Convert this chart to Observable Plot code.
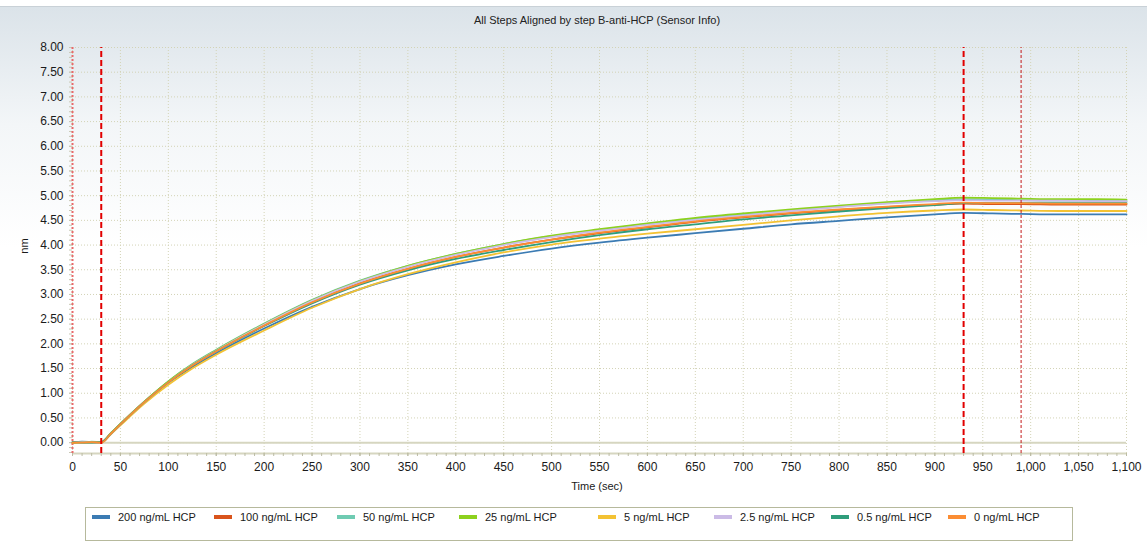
<!DOCTYPE html>
<html>
<head>
<meta charset="utf-8">
<script src="https://cdn.jsdelivr.net/npm/d3@7"></script>
<script src="https://cdn.jsdelivr.net/npm/@observablehq/plot@0.6"></script>
<style>
  html, body { margin: 0; padding: 0; }
  body {
    width: 1147px; height: 541px; position: relative; overflow: hidden;
    font-family: "Liberation Sans", Arial, sans-serif; color: #1a1a1a;
    background: #fff;
  }
  #panel {
    position: absolute; left: 0; top: 6px; width: 1147px; height: 535px;
    border-top: 1px solid #c9d1d7;
    background: linear-gradient(to bottom, #dbe3e9 0%, #f3f6f8 22%, #ffffff 45%, #ffffff 100%);
  }
  #title {
    position: absolute; top: 14px; left: 0; width: 1194px; text-align: center;
    font-size: 11px; color: #222;
  }
  #chart { position: absolute; left: 0; top: 0; }
  #ylab {
    position: absolute; left: 16px; top: 240px; font-size: 11px;
    transform: rotate(-90deg); transform-origin: center;
  }
  #xlab {
    position: absolute; top: 480px; left: 0; width: 1194px; text-align: center;
    font-size: 11px;
  }
  #legend {
    position: absolute; left: 85px; top: 507px; width: 986px; height: 32px;
    border: 1px solid #b6b99c; background: #fff;
  }
  .item { position: absolute; top: 0; height: 18px; display: flex; align-items: center; font-size: 11px; white-space: nowrap; }
  .sw { width: 18px; height: 4px; margin-right: 8px; }
</style>
</head>
<body>
<div id="panel"></div>
<div id="title">All Steps Aligned by step B-anti-HCP (Sensor Info)</div>
<div id="chart"></div>
<div id="ylab">nm</div>
<div id="xlab">Time (sec)</div>
<div id="legend"></div>
<script>
// Sensor response (nm) sampled at these times (sec)
const times = [0, 10, 20, 30, 40, 50, 75, 100, 125, 150, 200, 250, 300, 350, 400, 450, 500, 550, 600, 650, 700, 750, 800, 850, 900, 930, 960, 990, 1030, 1070, 1100];

const seriesNames = ["200 ng/mL HCP", "100 ng/mL HCP", "50 ng/mL HCP", "25 ng/mL HCP", "5 ng/mL HCP", "2.5 ng/mL HCP", "0.5 ng/mL HCP", "0 ng/mL HCP"];
const seriesColors = ["#3b7bb3", "#d9541c", "#6fcbb2", "#8dd11e", "#f3c233", "#cbbbe6", "#2f9d7b", "#fb8d33"];

const hcp200 = [0.00, 0.02, 0.01, 0.00, 0.18, 0.37, 0.82, 1.21, 1.53, 1.81, 2.31, 2.75, 3.11, 3.39, 3.61, 3.78, 3.93, 4.05, 4.15, 4.24, 4.33, 4.42, 4.49, 4.56, 4.62, 4.65, 4.64, 4.63, 4.62, 4.62, 4.62];
const hcp100 = [0.00, 0.01, 0.01, 0.00, 0.19, 0.38, 0.83, 1.23, 1.57, 1.86, 2.38, 2.85, 3.23, 3.52, 3.76, 3.95, 4.11, 4.24, 4.36, 4.47, 4.56, 4.64, 4.71, 4.77, 4.82, 4.84, 4.83, 4.83, 4.82, 4.82, 4.82];
const hcp50 = [0.01, 0.00, 0.02, 0.01, 0.19, 0.38, 0.83, 1.24, 1.59, 1.88, 2.41, 2.89, 3.28, 3.58, 3.82, 4.02, 4.18, 4.31, 4.43, 4.53, 4.62, 4.70, 4.78, 4.85, 4.90, 4.93, 4.92, 4.91, 4.90, 4.90, 4.89];
const hcp25 = [0.00, 0.01, 0.00, 0.01, 0.19, 0.38, 0.83, 1.24, 1.58, 1.87, 2.40, 2.88, 3.27, 3.58, 3.82, 4.02, 4.19, 4.32, 4.44, 4.55, 4.64, 4.72, 4.80, 4.87, 4.93, 4.96, 4.95, 4.94, 4.93, 4.93, 4.92];
const hcp5 = [0.00, 0.01, 0.00, 0.00, 0.17, 0.35, 0.79, 1.17, 1.50, 1.78, 2.27, 2.73, 3.11, 3.41, 3.65, 3.85, 4.01, 4.13, 4.23, 4.32, 4.41, 4.50, 4.58, 4.65, 4.70, 4.72, 4.71, 4.70, 4.69, 4.69, 4.69];
const hcp2_5 = [0.01, 0.01, 0.00, 0.00, 0.18, 0.37, 0.82, 1.22, 1.57, 1.86, 2.39, 2.87, 3.26, 3.56, 3.80, 4.00, 4.16, 4.29, 4.41, 4.51, 4.60, 4.69, 4.77, 4.84, 4.89, 4.91, 4.90, 4.90, 4.90, 4.89, 4.89];
const hcp0_5 = [0.01, 0.00, 0.00, 0.01, 0.18, 0.37, 0.82, 1.22, 1.56, 1.85, 2.36, 2.82, 3.20, 3.49, 3.72, 3.90, 4.06, 4.20, 4.32, 4.42, 4.52, 4.60, 4.68, 4.75, 4.81, 4.85, 4.85, 4.85, 4.85, 4.85, 4.85];
const hcp0 = [0.00, 0.00, 0.01, 0.00, 0.18, 0.37, 0.82, 1.22, 1.56, 1.85, 2.37, 2.84, 3.22, 3.52, 3.76, 3.95, 4.11, 4.25, 4.37, 4.48, 4.57, 4.65, 4.72, 4.78, 4.83, 4.86, 4.85, 4.85, 4.84, 4.84, 4.84];

// Step boundaries: start, association start / dissociation start, end of step
const stepStart = [0];
const stepBounds = [30, 930];
const stepEnd = [990];

const xTicks = d3.range(0, 1101, 50);
const xMinor = d3.range(0, 1101, 10);
const yTicks = d3.range(0, 17).map(i => i * 0.5);
const yMinor = d3.range(-2, 81).map(i => i / 10);

const seriesValues = [hcp200, hcp100, hcp50, hcp25, hcp5, hcp2_5, hcp0_5, hcp0];
const rows = seriesNames.flatMap((name, s) =>
  times.map((t, i) => ({name, t, v: seriesValues[s][i]})));

const yMin = -0.22, yMax = 8;
const grid = "#d3d3b6";
const axisColor = "#d6d6c0";

const chart = Plot.plot({
  width: 1147,
  height: 500,
  marginLeft: 72,
  marginRight: 21,
  marginTop: 47,
  marginBottom: 47,
  style: {background: "transparent", fontFamily: "Liberation Sans, Arial, sans-serif", fontSize: "12px", color: "#1a1a1a"},
  x: {domain: [0, 1100], label: null},
  y: {domain: [yMin, yMax], label: null},
  color: {domain: seriesNames, range: seriesColors},
  marks: [
    Plot.gridX(xTicks, {stroke: grid, strokeOpacity: 1, strokeDasharray: "1,2"}),
    Plot.gridY(yTicks, {stroke: grid, strokeOpacity: 1, strokeDasharray: "1,2"}),
    Plot.ruleY([0], {stroke: axisColor, strokeWidth: 2}),
    Plot.ruleY([yMin], {stroke: axisColor, strokeWidth: 2}),
    Plot.axisX(xMinor, {anchor: "bottom", tickSize: 3, tickFormat: () => "", stroke: "#bcbca4", label: null}),
    Plot.axisX(xTicks, {anchor: "bottom", tickSize: 3, tickPadding: 6, tickFormat: d3.format(","), stroke: "#bcbca4", label: null}),
    Plot.axisY(yMinor, {anchor: "left", tickSize: 3, tickFormat: () => "", stroke: "#c8c8b4", label: null}),
    Plot.axisY(yTicks, {anchor: "left", tickSize: 3, tickPadding: 6, tickFormat: d3.format(".2f"), stroke: "#c8c8b4", label: null}),
    Plot.ruleX(stepStart, {y1: yMin, y2: yMax, stroke: "#e86a6a", strokeWidth: 2, strokeDasharray: "2,2"}),
    Plot.line(rows, {x: "t", y: "v", z: "name", stroke: "name", strokeWidth: 1.8, curve: "monotone-x"}),
    Plot.ruleX(stepBounds, {y1: yMin, y2: yMax, stroke: "#e10000", strokeWidth: 2, strokeDasharray: "6,3"}),
    Plot.ruleX(stepEnd, {y1: yMin, y2: yMax, stroke: "#c41a1a", strokeWidth: 1, strokeDasharray: "3,2"})
  ]
});
document.getElementById("chart").appendChild(chart);

// Legend row
const legendLeft = [6, 128, 251, 373, 512, 628, 745, 862];
const legend = document.getElementById("legend");
seriesNames.forEach((name, i) => {
  const item = document.createElement("div");
  item.className = "item";
  item.style.left = legendLeft[i] + "px";
  const sw = document.createElement("span");
  sw.className = "sw";
  sw.style.background = seriesColors[i];
  const label = document.createElement("span");
  label.textContent = name;
  item.append(sw, label);
  legend.appendChild(item);
});
</script>
</body>
</html>
